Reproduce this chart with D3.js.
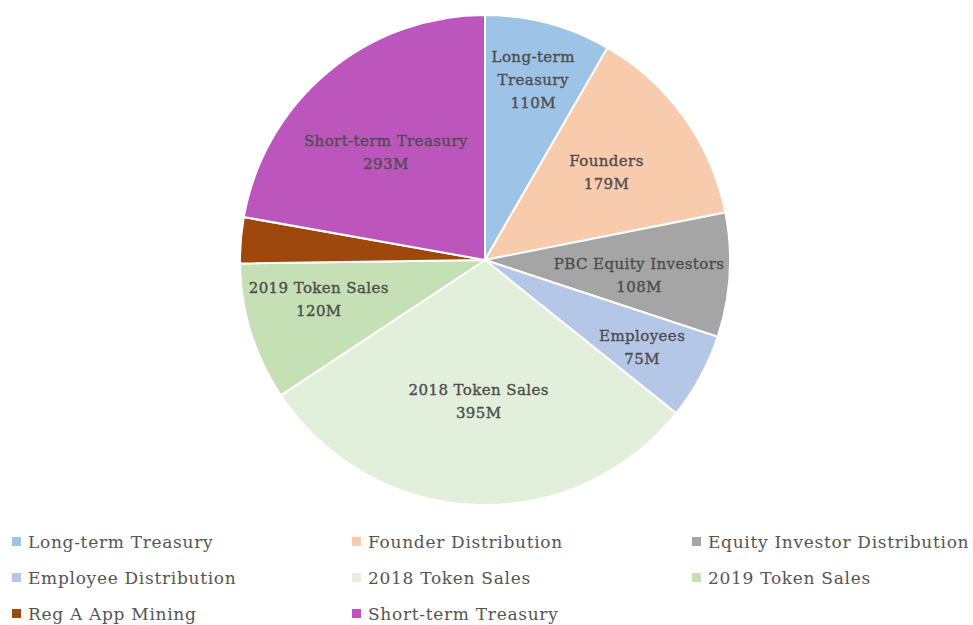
<!DOCTYPE html>
<html>
<head>
<meta charset="utf-8">
<script src="https://cdn.jsdelivr.net/npm/d3@7"></script>
<style>
  body { margin: 0; background: #fff; }
  svg text { font-family: "DejaVu Serif", "Liberation Serif", serif; fill: #555; }
  svg .slice-label { fill: #4d4d4d; stroke: #4d4d4d; stroke-width: 0.35px; }
</style>
</head>
<body>
<div id="chart"></div>
<script>
const sliceNames = ["Long-term Treasury", "Founders", "PBC Equity Investors", "Employees",
    "2018 Token Sales", "2019 Token Sales", "Reg A App Mining", "Short-term Treasury"];
const legendNames = ["Long-term Treasury", "Founder Distribution", "Equity Investor Distribution",
    "Employee Distribution", "2018 Token Sales", "2019 Token Sales", "Reg A App Mining", "Short-term Treasury"];
const values = [110, 179, 108, 75, 395, 120, 40, 293];
const valueLabels = ["110M", "179M", "108M", "75M", "395M", "120M", "", "293M"];
const colors = ["#9DC3E6", "#F8CBAD", "#A5A5A5", "#B4C7E7", "#E2EFDA", "#C5E0B4", "#9E480E", "#BC56BC"];

const width = 973, height = 625;
const cx = 485, cy = 260, radius = 245;

const svg = d3.select("#chart").append("svg")
    .attr("width", width)
    .attr("height", height);

const data = sliceNames.map((name, i) => ({
    name: name,
    value: values[i],
    valueLabel: valueLabels[i],
    color: colors[i]
}));

const pie = d3.pie().sort(null).value(d => d.value);
const arc = d3.arc().innerRadius(0).outerRadius(radius);
const arcs = pie(data);

const g = svg.append("g").attr("transform", `translate(${cx},${cy})`);

g.selectAll(".slice")
    .data(arcs)
    .join("path")
        .attr("class", "slice")
        .attr("d", arc)
        .attr("fill", d => d.data.color)
        .attr("stroke", "#fff")
        .attr("stroke-width", 2);

// label distance from centre (share of radius) plus small vertical nudge, best-fit style
const labelPos = {
    "Long-term Treasury": [0.76, 0],
    "Founders": [0.61, -1],
    "PBC Equity Investors": [0.63, 6],
    "Employees": [0.73, 2],
    "2018 Token Sales": [0.57, 2],
    "2019 Token Sales": [0.71, -12],
    "Short-term Treasury": [0.63, 11]
};

function labelLines(d) {
    if (d.data.name === "Long-term Treasury") return ["Long-term", "Treasury", d.data.valueLabel];
    return [d.data.name, d.data.valueLabel];
}

const lineH = 23;

const labels = g.selectAll(".slice-label")
    .data(arcs.filter(d => d.data.valueLabel !== ""))
    .join("text")
        .attr("class", "slice-label")
        .attr("text-anchor", "middle")
        .style("font-size", "15px")
        .style("letter-spacing", "0.4px")
        .attr("transform", d => {
            const [k, nudge] = labelPos[d.data.name];
            const r = radius * k;
            const la = d3.arc().innerRadius(r).outerRadius(r);
            const [x, y] = la.centroid(d);
            const n = labelLines(d).length;
            return `translate(${x},${y - (n - 1) * lineH / 2 + 5 + nudge})`;
        });

labels.selectAll("tspan")
    .data(d => labelLines(d))
    .join("tspan")
        .attr("x", 0)
        .attr("dy", (_, i) => i === 0 ? 0 : lineH)
        .text(d => d);

// legend
const legendX = d3.scalePoint().domain([0, 1, 2]).range([12, 692]);
const legendY = d3.scalePoint().domain([0, 1, 2]).range([542, 614]);

const legend = svg.selectAll(".legend-item")
    .data(legendNames)
    .join("g")
        .attr("class", "legend-item")
        .attr("transform", (d, i) => `translate(${legendX(i % 3)},${legendY(Math.floor(i / 3))})`);

legend.append("rect")
    .attr("x", 0)
    .attr("y", -5)
    .attr("width", 9)
    .attr("height", 9)
    .attr("fill", (d, i) => colors[i]);

legend.append("text")
    .attr("x", 16)
    .attr("y", 6)
    .style("font-size", "17px")
    .style("letter-spacing", "0.7px")
    .text(d => d);
</script>
</body>
</html>
